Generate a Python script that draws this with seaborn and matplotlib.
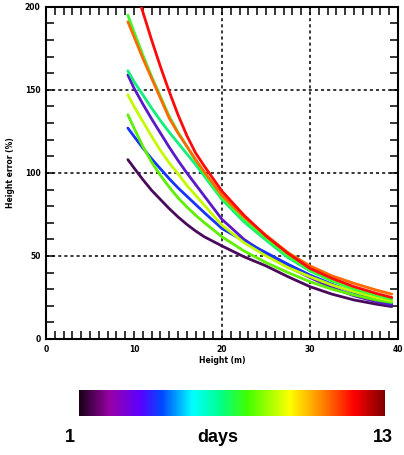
import numpy as np
import pandas as pd
import seaborn as sns
import matplotlib
matplotlib.use('Agg')
import matplotlib.pyplot as plt
from matplotlib.colors import LinearSegmentedColormap
from matplotlib.ticker import MultipleLocator

# height (m) sampled along the curves
heights = [9.3, 10, 11, 12, 13, 14, 15, 16, 17, 18, 20, 22.5, 25, 27.5, 30, 32.5, 35, 37.5, 39.3]

# height error (%) per curve
err_purple = [108, 103, 96, 89.5, 84, 78.5, 73.5, 69, 65, 61.5, 56, 49.5, 44, 37.5, 31.5, 27, 23.5, 21, 19.5]
err_indigo = [159, 151, 141.5, 132.5, 124, 115.5, 107.5, 100, 93, 86, 72, 60, 51, 43.5, 37, 31, 26, 22.5, 20.5]
err_blue = [127, 122, 115, 108.5, 102.5, 96.5, 91, 86, 81, 76, 66.5, 59, 52, 45, 38.5, 33, 28, 24, 21.5]
err_lime = [135, 127, 116, 106.5, 98.5, 91.5, 85, 79.5, 74.5, 70, 61.5, 53, 46, 40, 34.5, 30, 26.5, 23.5, 22]
err_yellowgreen = [147, 140, 131, 122, 113.5, 106, 99.5, 92.5, 86.5, 80.5, 68.5, 58, 50, 43, 37.5, 32.5, 28.5, 25, 23]
err_springgreen = [161.5, 155, 147, 139, 131.5, 124.5, 118, 111.5, 105, 98, 84, 70.5, 59.5, 49, 41, 35, 30.5, 26.5, 24]
err_green = [195, 185, 171, 158, 146, 134, 124.5, 116, 107.5, 99.5, 85, 72, 60.5, 50, 41.5, 35, 30, 26.5, 24]
err_orange = [191, 182, 169, 157, 145, 133, 124, 116, 108, 100.5, 86.5, 73.5, 62.5, 52, 44, 38, 33.5, 29.5, 27]
err_red = [224, 213, 197, 180, 164, 149, 135, 122.5, 112, 104, 89, 74.5, 62, 51.5, 42.5, 36.5, 31.5, 27.5, 25]

curves = ['c1', 'c2', 'c3', 'c4', 'c5', 'c6', 'c7', 'c8', 'c9']
series = [err_purple, err_indigo, err_blue, err_lime, err_yellowgreen,
          err_springgreen, err_green, err_orange, err_red]
line_colors = ['#4a0a5c', '#5a18c8', '#1634ff', '#5ef000', '#c4fa00',
               '#10f07a', '#3cff30', '#ff6a00', '#ff0a0a']

# colour bar labels
cbar_left, cbar_mid, cbar_right = '1', 'days', '13'

df = pd.DataFrame({
    'height': heights * len(curves),
    'error': sum(series, []),
    'curve': np.repeat(curves, len(heights)),
})

sns.set_style('ticks')
plt.rcParams['font.family'] = ['DejaVu Sans']
plt.rcParams['text.color'] = 'black'
plt.rcParams['axes.labelcolor'] = 'black'
plt.rcParams['xtick.color'] = 'black'
plt.rcParams['ytick.color'] = 'black'

fig = plt.figure(figsize=(4.04, 4.55), dpi=100)
ax = fig.add_axes([0.114, 0.255, 0.871, 0.730])

for g in [20, 30]:
    ax.axvline(g, color='black', lw=1.1, ls=(0, (2, 2)), zorder=1)
for g in [50, 100, 150]:
    ax.axhline(g, color='black', lw=1.1, ls=(0, (2, 2)), zorder=1)

sns.lineplot(data=df, x='height', y='error', hue='curve', palette=dict(zip(curves, line_colors)),
             estimator=None, sort=False, lw=2.0, legend=False, ax=ax, zorder=3)

ax.set_xlim(0, 40)
ax.set_ylim(0, 200)
ax.xaxis.set_major_locator(MultipleLocator(10))
ax.xaxis.set_minor_locator(MultipleLocator(1))
ax.yaxis.set_major_locator(MultipleLocator(50))
ax.yaxis.set_minor_locator(MultipleLocator(10))
ax.tick_params(axis='both', which='both', direction='in', top=True, right=True,
               length=6, width=1.1, color='black')
ax.tick_params(axis='both', which='major', labelsize=5.5, pad=4, labelcolor='black')
for lab in ax.get_xticklabels() + ax.get_yticklabels():
    lab.set_fontweight('bold')
for s in ax.spines.values():
    s.set_linewidth(1.5)
    s.set_color('black')
ax.set_xlabel('Height (m)', fontsize=5.5, fontweight='bold', labelpad=2, color='black')
ax.set_ylabel('Height error (%)', fontsize=5.5, fontweight='bold', labelpad=7, color='black')

# colour bar
cmap = LinearSegmentedColormap.from_list('days', [
    (0.00, '#1a0018'), (0.10, '#9a00a8'), (0.20, '#5a00ff'), (0.27, '#0048ff'),
    (0.37, '#00ffff'), (0.46, '#00ff90'), (0.55, '#40ff00'), (0.69, '#ffff00'),
    (0.80, '#ff8000'), (0.90, '#ff0000'), (1.00, '#800000')])
cax = fig.add_axes([0.1955, 0.0857, 0.757, 0.057])
cax.imshow(np.linspace(0, 1, 256)[None, :], aspect='auto', cmap=cmap)
cax.set_axis_off()

lab_kw = dict(fontsize=13, fontweight='bold', ha='center', va='center', color='black',
              family=['Liberation Sans', 'DejaVu Sans'])
fig.text(70 / 404, 1 - 438 / 455, cbar_left, **lab_kw)
fig.text(218 / 404, 1 - 438 / 455, cbar_mid, **lab_kw)
fig.text(383 / 404, 1 - 438 / 455, cbar_right, **lab_kw)

fig.savefig('out.png', dpi=100)
